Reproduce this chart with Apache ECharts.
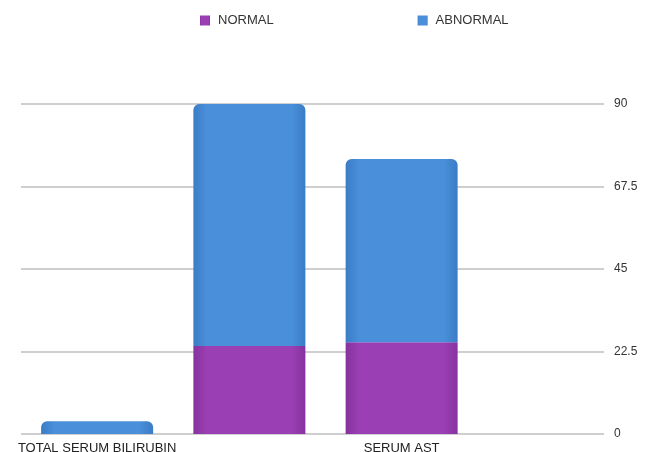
<!DOCTYPE html>
<html>
<head>
<meta charset="utf-8">
<script src="https://cdn.jsdelivr.net/npm/echarts@6/dist/echarts.min.js"></script>
<style>html,body{margin:0;padding:0;background:#fff}#c{width:646px;height:452px}</style>
</head>
<body>
<div id="c"></div>
<script>
var categories = ["TOTAL SERUM BILIRUBIN", "", "SERUM AST", ""];
var normalValues = [0, 24, 25, null];
var abnormalValues = [3.5, 66, 50, null];
var yTicks = [0, 22.5, 45, 67.5, 90];

var chart = echarts.init(document.getElementById('c'), null, {renderer: 'canvas'});
var font = '"Liberation Sans", Arial, Helvetica, sans-serif';
function hGrad(edge, mid) {
  return new echarts.graphic.LinearGradient(0, 0, 1, 0, [
    {offset: 0, color: edge}, {offset: 0.12, color: mid},
    {offset: 0.88, color: mid}, {offset: 1, color: edge}
  ]);
}
chart.setOption({
  animation: false,
  backgroundColor: '#ffffff',
  legend: {
    top: 9,
    left: 195,
    itemWidth: 10,
    itemHeight: 10,
    itemGap: 144,
    icon: 'rect',
    textStyle: {fontFamily: font, fontSize: 13, color: '#333', padding: [0, 0, 0, 3]},
    data: ['NORMAL', 'ABNORMAL']
  },
  grid: {left: 21, right: 16, top: 104, bottom: 18, containLabel: false, outerBoundsMode: 'none'},
  xAxis: {
    type: 'category',
    data: categories,
    axisLine: {show: false},
    axisTick: {show: false},
    axisLabel: {interval: 0, margin: 8, fontFamily: font, fontSize: 13, color: '#222'}
  },
  yAxis: {
    type: 'value',
    position: 'right',
    min: yTicks[0],
    max: yTicks[yTicks.length - 1],
    interval: yTicks[1] - yTicks[0],
    axisLine: {show: false},
    axisTick: {show: false},
    axisLabel: {
      margin: -26, fontFamily: font, fontSize: 12, color: '#333',
      backgroundColor: '#ffffff', padding: [3, 30, 3, 10]
    },
    splitLine: {lineStyle: {color: '#cfcfcf', width: 2}}
  },
  series: [
    {
      name: 'NORMAL',
      type: 'bar',
      stack: 'total',
      barWidth: 112,
      data: normalValues,
      itemStyle: {color: hGrad('#86329e', '#9a3fb4')}
    },
    {
      name: 'ABNORMAL',
      type: 'bar',
      stack: 'total',
      barWidth: 112,
      data: abnormalValues,
      itemStyle: {color: hGrad('#3b7cc6', '#4a8fd9'), borderRadius: [6, 6, 0, 0]}
    }
  ],
  color: ['#9a3fb4', '#4a8fd9']
});
</script>
</body>
</html>
